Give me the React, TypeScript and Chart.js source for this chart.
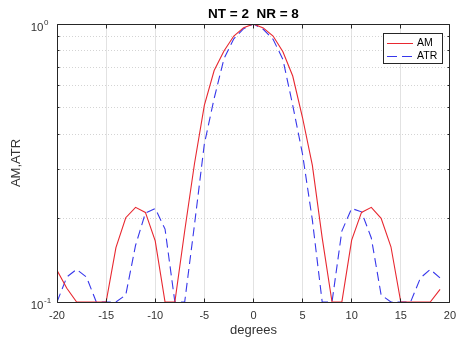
import { useEffect, useRef } from 'react';
import { Chart, registerables } from 'chart.js';

Chart.register(...registerables);

const degrees = [-20, -19, -18, -17, -16, -15, -14, -13, -12, -11, -10, -9, -8, -7, -6, -5, -4, -3, -2, -1, 0, 1, 2, 3, 4, 5, 6, 7, 8, 9, 10, 11, 12, 13, 14, 15, 16, 17, 18, 19];
const amValues = [0.13, 0.112, 0.1, 0.1, 0.1, 0.1, 0.157, 0.201, 0.219, 0.21, 0.166, 0.1, 0.1, 0.18, 0.315, 0.51, 0.68, 0.8, 0.905, 0.97, 1.0, 0.968, 0.905, 0.795, 0.65, 0.46, 0.31, 0.17, 0.1, 0.1, 0.167, 0.21, 0.219, 0.2, 0.158, 0.1, 0.1, 0.1, 0.1, 0.111];
const atrValues = [0.1, 0.123, 0.131, 0.123, 0.1, 0.1, 0.1, 0.106, 0.16, 0.209, 0.217, 0.183, 0.1, 0.1, 0.19, 0.37, 0.54, 0.75, 0.885, 0.962, 1.0, 0.957, 0.881, 0.746, 0.51, 0.34, 0.197, 0.1, 0.1, 0.18, 0.217, 0.211, 0.17, 0.106, 0.1, 0.1, 0.1, 0.122, 0.131, 0.122];
const xTickValues = [-20, -15, -10, -5, 0, 5, 10, 15, 20];
const yTickValues = [0.1, 0.2, 0.3, 0.4, 0.5, 0.6, 0.7, 0.8, 0.9, 1];
const yTickLabels = [
  { value: 1, base: '10', exp: '0' },
  { value: 0.1, base: '10', exp: '-1' },
];
const titleText = 'NT = 2  NR = 8';
const xLabel = 'degrees';
const yLabel = 'AM,ATR';
const seriesNames = ['AM', 'ATR'];

const FONT = '"Liberation Sans", Arial, Helvetica, sans-serif';
const AXIS_COLOR = '#262626';
const TEXT_COLOR = '#333333';
const RED = 'rgb(232, 40, 48)';
const BLUE = 'rgb(55, 55, 235)';
const DASH = [9, 5];

const isMajor = (v: number) => Math.abs(v - 1) < 1e-9 || Math.abs(v - 0.1) < 1e-9;

const framePlugin = {
  id: 'matlabFrame',
  afterDatasetsDraw(chart: any) {
    const { ctx, chartArea: a, scales } = chart;
    const L = Math.floor(a.left) + 0.5;
    const R = Math.floor(a.right) + 0.5;
    const T = Math.floor(a.top) + 0.5;
    const B = Math.floor(a.bottom) + 0.5;
    ctx.save();
    ctx.strokeStyle = AXIS_COLOR;
    ctx.lineWidth = 1;
    ctx.setLineDash([]);
    ctx.beginPath();
    ctx.rect(L, T, R - L, B - T);
    ctx.stroke();
    // inward ticks
    ctx.beginPath();
    xTickValues.forEach((v) => {
      const px = Math.floor(scales.x.getPixelForValue(v)) + 0.5;
      ctx.moveTo(px, B);
      ctx.lineTo(px, B - 4);
      ctx.moveTo(px, T);
      ctx.lineTo(px, T + 4);
    });
    yTickValues.forEach((v) => {
      const py = Math.floor(scales.y.getPixelForValue(v)) + 0.5;
      const len = isMajor(v) ? 4 : 2;
      ctx.moveTo(L, py);
      ctx.lineTo(L + len, py);
      ctx.moveTo(R, py);
      ctx.lineTo(R - len, py);
    });
    ctx.stroke();

    // y tick labels with superscript exponents
    ctx.fillStyle = TEXT_COLOR;
    yTickLabels.forEach((t) => {
      const py = scales.y.getPixelForValue(t.value);
      ctx.textBaseline = 'alphabetic';
      ctx.textAlign = 'right';
      ctx.font = `11.5px ${FONT}`;
      ctx.fillText(t.base, 43.5, py + 7);
      ctx.textAlign = 'left';
      ctx.font = `8px ${FONT}`;
      ctx.fillText(t.exp, 44, py + 1.2);
    });

    // legend box
    const lx = 383.5, ly = 33.5, lw = 59, lh = 30;
    ctx.fillStyle = '#ffffff';
    ctx.fillRect(lx, ly, lw, lh);
    ctx.strokeStyle = AXIS_COLOR;
    ctx.strokeRect(lx, ly, lw, lh);
    const rows = [
      { name: seriesNames[0], color: RED, dash: [] as number[], y: 43.5 },
      { name: seriesNames[1], color: BLUE, dash: [10, 5], y: 56.5 },
    ];
    rows.forEach((r) => {
      ctx.strokeStyle = r.color;
      ctx.setLineDash(r.dash);
      ctx.beginPath();
      ctx.moveTo(387, r.y);
      ctx.lineTo(413, r.y);
      ctx.stroke();
      ctx.setLineDash([]);
      ctx.fillStyle = '#000000';
      ctx.font = `10.5px ${FONT}`;
      ctx.textAlign = 'left';
      ctx.textBaseline = 'middle';
      ctx.fillText(r.name, 417, r.y);
    });
    ctx.restore();
  },
};

export default function App() {
  const canvasRef = useRef<HTMLCanvasElement | null>(null);

  useEffect(() => {
    if (!canvasRef.current) return;
    const chart = new Chart(canvasRef.current, {
      type: 'line',
      data: {
        datasets: [
          {
            label: seriesNames[0],
            data: degrees.map((d, i) => ({ x: d, y: amValues[i] })),
            borderColor: RED,
            borderWidth: 1.1,
            pointRadius: 0,
            tension: 0,
            fill: false,
          },
          {
            label: seriesNames[1],
            data: degrees.map((d, i) => ({ x: d, y: atrValues[i] })),
            borderColor: BLUE,
            borderWidth: 1.1,
            borderDash: DASH,
            pointRadius: 0,
            tension: 0,
            fill: false,
          },
        ],
      },
      options: {
        responsive: false,
        animation: false,
        events: [],
        layout: { padding: { left: 0, right: 8, top: 0, bottom: 0 } },
        plugins: {
          legend: { display: false },
          tooltip: { enabled: false },
          title: {
            display: true,
            text: titleText,
            fullSize: false,
            color: '#000000',
            font: { family: FONT, size: 13.5, weight: 'bold' },
            padding: { top: 5.8, bottom: 2 },
          },
        },
        scales: {
          x: {
            type: 'linear',
            min: -20,
            max: 20,
            afterBuildTicks: (s: any) => {
              s.ticks = xTickValues.map((v) => ({ value: v }));
            },
            afterFit: (s: any) => {
              s.height = 38;
            },
            ticks: {
              color: TEXT_COLOR,
              font: { family: FONT, size: 11 },
              padding: 7,
              maxRotation: 0,
              autoSkip: false,
            },
            grid: { color: '#e2e2e2', lineWidth: 1, drawTicks: false },
            border: { display: false },
            title: {
              display: true,
              text: xLabel,
              color: TEXT_COLOR,
              font: { family: FONT, size: 13 },
              padding: { top: 0, bottom: 2 },
            },
          },
          y: {
            type: 'logarithmic',
            min: 0.1,
            max: 1,
            afterBuildTicks: (s: any) => {
              s.ticks = yTickValues.map((v) => ({ value: v }));
            },
            afterFit: (s: any) => {
              s.width = 57;
            },
            ticks: {
              display: false,
              autoSkip: false,
            },
            grid: {
              drawTicks: false,
              lineWidth: 1,
              color: (c: any) => (c.tick && isMajor(c.tick.value) ? 'rgba(0,0,0,0)' : '#d4d4d4'),
            },
            border: { display: false, dash: [1, 2] },
            title: {
              display: true,
              text: yLabel,
              color: TEXT_COLOR,
              font: { family: FONT, size: 13 },
              padding: { top: 9, bottom: 0 },
            },
          },
        },
      },
      plugins: [framePlugin],
    } as any);
    return () => chart.destroy();
  }, []);

  return (
    <div style={{ position: 'absolute', left: 0, top: 0, width: 463, height: 340, background: '#ffffff' }}>
      <canvas ref={canvasRef} width={463} height={340} style={{ display: 'block' }} />
    </div>
  );
}
